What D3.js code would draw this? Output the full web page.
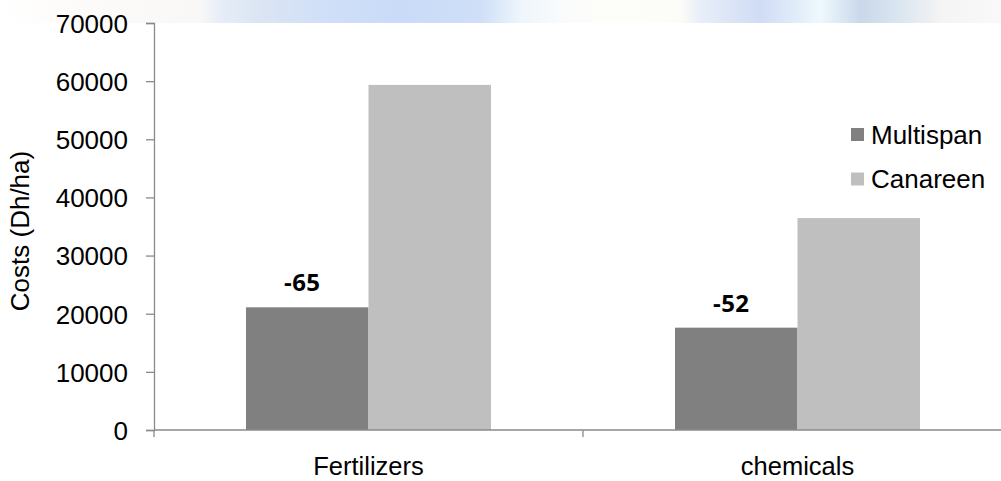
<!DOCTYPE html>
<html>
<head>
<meta charset="utf-8">
<script src="https://cdn.jsdelivr.net/npm/d3@7"></script>
<style>
  html, body { margin: 0; padding: 0; background: #fff; }
  svg { display: block; }
</style>
</head>
<body>
<div id="chart"></div>
<script>
// ---- Data ----
const categories = ["Fertilizers", "chemicals"];
const seriesNames = ["Multispan", "Canareen"];
const multispanValues = [21100, 17600];
const canareenValues = [59350, 36450];
const diffLabels = ["-65", "-52"];
const yTicks = [0, 10000, 20000, 30000, 40000, 50000, 60000, 70000];
const yTitle = "Costs (Dh/ha)";

(function () {
const W = 1001, H = 481;
const svg = d3.select("#chart").append("svg").attr("width", W).attr("height", H);

// faint banner at top (background picture remnant)
const defs = svg.append("defs");
const grad = defs.append("linearGradient").attr("id", "band").attr("x1", "0").attr("x2", "1").attr("y1", "0").attr("y2", "0");
[[0, "#ffffff"], [0.08, "#fdfbf9"], [0.2, "#f9f8f6"], [0.22, "#e6edf8"], [0.26, "#dbe5f3"],
 [0.33, "#cfdff8"], [0.4, "#c9dbf8"], [0.48, "#cfdff7"], [0.52, "#eef5fc"], [0.56, "#f9fbfc"],
 [0.6, "#fdfdf9"], [0.68, "#fcfcf8"], [0.7, "#e8eef8"], [0.76, "#d0dcf5"], [0.82, "#eef8fd"],
 [0.86, "#c9d8ea"], [0.9, "#dbe6f0"], [0.94, "#f4f4f4"], [1, "#f9f9f9"]]
  .forEach(([o, c]) => grad.append("stop").attr("offset", o).attr("stop-color", c));
svg.append("rect").attr("x", 0).attr("y", 0).attr("width", W).attr("height", 23).attr("fill", "url(#band)");

const font = "'Liberation Sans', Arial, sans-serif";
const mLeft = 154, mTop = 23, mBottom = 430, mRight = 1012;

const y = d3.scaleLinear().domain([0, 70000]).range([mBottom, mTop]);
const x0 = d3.scaleBand().domain(categories).range([mLeft, mRight]).padding(0);
const x1 = d3.scaleBand().domain(seriesNames).range([0, x0.bandwidth()]).paddingInner(0).paddingOuter(0.751);
const color = d3.scaleOrdinal().domain(seriesNames).range(["#808080", "#bfbfbf"]);

const axisColor = "#8a8a8a";

// bars
const rows = categories.map((c, i) => ({ cat: c, vals: [multispanValues[i], canareenValues[i]], label: diffLabels[i] }));
const g = svg.append("g");
const groups = g.selectAll("g.grp").data(rows).join("g").attr("class", "grp")
  .attr("transform", d => `translate(${x0(d.cat)},0)`);
groups.selectAll("rect").data(d => d.vals.map((v, j) => ({ s: seriesNames[j], v })))
  .join("rect")
  .attr("x", d => x1(d.s))
  .attr("y", d => y(d.v))
  .attr("width", x1.bandwidth())
  .attr("height", d => y(0) - y(d.v))
  .attr("fill", d => color(d.s));

// difference labels above Multispan bars
groups.append("text")
  .attr("x", x1("Multispan") + x1.bandwidth() / 2 - 5)
  .attr("y", d => y(d.vals[0]) - 16)
  .attr("text-anchor", "middle")
  .attr("font-family", "'Open Sans', sans-serif")
  .attr("font-weight", 700)
  .attr("font-size", 24)
  .attr("letter-spacing", 0.5)
  .attr("fill", "#000")
  .text(d => d.label);

// y axis
const yAxis = d3.axisLeft(y).tickValues(yTicks).tickSize(8).tickPadding(18).tickFormat(d3.format("d"));
const ya = svg.append("g").attr("transform", `translate(${mLeft},0)`).call(yAxis);
ya.select(".domain").attr("stroke", axisColor).attr("stroke-width", 1.3);
ya.selectAll(".tick line").attr("stroke", axisColor).attr("stroke-width", 1.3);
ya.selectAll(".tick text").attr("font-family", font).attr("font-size", 26).attr("fill", "#000").attr("dy", "0.36em");

// x axis
const xa = svg.append("g").attr("transform", `translate(0,${mBottom})`);
xa.append("line").attr("x1", mLeft).attr("x2", mRight).attr("y1", 0).attr("y2", 0)
  .attr("stroke", axisColor).attr("stroke-width", 1.3);
const boundaries = [mLeft].concat(categories.map(c => x0(c) + x0.bandwidth()));
xa.selectAll("line.tk").data(boundaries).join("line").attr("class", "tk")
  .attr("x1", d => d).attr("x2", d => d).attr("y1", 0).attr("y2", 7)
  .attr("stroke", axisColor).attr("stroke-width", 1.3);
xa.selectAll("text").data(categories).join("text")
  .attr("x", d => x0(d) + x0.bandwidth() / 2)
  .attr("y", 45)
  .attr("text-anchor", "middle")
  .attr("font-family", font).attr("font-size", 25.5).attr("fill", "#000")
  .text(d => d);

// y title
svg.append("text")
  .attr("transform", "translate(28.5,231) rotate(-90)")
  .attr("text-anchor", "middle")
  .attr("font-family", font).attr("font-size", 26).attr("fill", "#000")
  .text(yTitle);

// legend
const lg = svg.append("g").attr("transform", "translate(851,128)");
const items = lg.selectAll("g").data(seriesNames).join("g").attr("transform", (d, i) => `translate(0,${i * 44.5})`);
items.append("rect").attr("width", 13).attr("height", 13).attr("fill", d => color(d));
items.append("text").attr("x", 20).attr("y", 15.5)
  .attr("font-family", font).attr("font-size", 26).attr("fill", "#000").text(d => d);
})();
</script>
</body>
</html>
